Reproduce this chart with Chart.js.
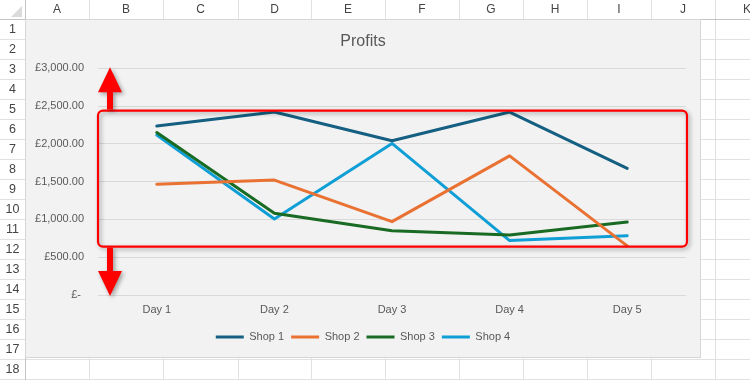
<!DOCTYPE html>
<html><head><meta charset="utf-8">
<script src="https://cdn.jsdelivr.net/npm/chart.js@4/dist/chart.umd.min.js"></script>
<style>
html,body{margin:0;padding:0;width:750px;height:380px;overflow:hidden;background:#fff;}
#sheet{position:absolute;left:0;top:0;}
#c{position:absolute;left:26px;top:20px;}
</style></head>
<body>
<canvas id="sheet" width="750" height="380"></canvas>
<canvas id="c" width="674" height="337"></canvas>
<script>
// ---- data ----
const categories = ['Day 1', 'Day 2', 'Day 3', 'Day 4', 'Day 5'];
const seriesNames = ['Shop 1', 'Shop 2', 'Shop 3', 'Shop 4'];
const shop1 = [2235, 2420, 2040, 2420, 1675];
const shop2 = [1465, 1520, 970, 1840, 650];
const shop3 = [2150, 1080, 850, 795, 965];
const shop4 = [2115, 1005, 2005, 720, 785];
const yTickValues = [0, 500, 1000, 1500, 2000, 2500, 3000];
const highlightBand = [640, 2440];
const columnLetters = ['A','B','C','D','E','F','G','H','I','J','K'];

// ---- spreadsheet background ----
(function drawSheet(){
  const s = document.getElementById('sheet').getContext('2d');
  const colEdges = [25, 89, 163, 238, 311, 385, 459, 523, 587, 651, 715, 779];
  s.fillStyle = '#ffffff'; s.fillRect(0,0,750,380);
  s.strokeStyle = '#e1e1e1'; s.lineWidth = 1;
  for (let i = 1; i < colEdges.length; i++) {
    s.beginPath(); s.moveTo(colEdges[i]+0.5, 0); s.lineTo(colEdges[i]+0.5, 380); s.stroke();
  }
  for (let r = 1; r <= 18; r++) {
    const y = 19 + 20*r;
    s.beginPath(); s.moveTo(0, y+0.5); s.lineTo(750, y+0.5); s.stroke();
  }
  s.strokeStyle = '#c4c4c4';
  s.beginPath(); s.moveTo(0, 19.5); s.lineTo(750, 19.5); s.stroke();
  s.beginPath(); s.moveTo(25.5, 0); s.lineTo(25.5, 380); s.stroke();
  s.fillStyle = '#dadada';
  s.beginPath(); s.moveTo(22,6); s.lineTo(22,17); s.lineTo(11,17); s.closePath(); s.fill();
  s.fillStyle = '#444444'; s.font = '12px "Liberation Sans", Arial, sans-serif';
  s.textAlign = 'center'; s.textBaseline = 'middle';
  for (let i = 0; i < columnLetters.length; i++) {
    s.fillText(columnLetters[i], (colEdges[i] + colEdges[i+1]) / 2, 10);
  }
  s.font = '12.5px "Liberation Sans", Arial, sans-serif';
  for (let r = 1; r <= 18; r++) s.fillText(String(r), 12.5, 9 + 20*r + 1);
  s.fillStyle = '#f2f2f2'; s.fillRect(26, 20, 674, 337);
  s.strokeStyle = '#d6d6d6'; s.strokeRect(25.5, 19.5, 675, 338);
})();

// ---- annotation plugin ----
const annotate = {
  id: 'annotate',
  afterDraw(chart) {
    const {ctx, chartArea, scales} = chart;
    const ys = scales.y;
    const left = chartArea.left, right = chartArea.right + 1;
    const top = ys.getPixelForValue(highlightBand[1]);
    const bottom = ys.getPixelForValue(highlightBand[0]);
    const ax = left + 12;
    ctx.save();
    ctx.shadowColor = 'rgba(0,0,0,0.35)';
    ctx.shadowBlur = 4; ctx.shadowOffsetX = 2; ctx.shadowOffsetY = 2;
    ctx.strokeStyle = '#ff0000'; ctx.lineWidth = 2.2;
    ctx.beginPath(); ctx.roundRect(left, top, right - left, bottom - top, 5); ctx.stroke();
    ctx.fillStyle = '#ff0000';
    const tipUp = ys.getPixelForValue(3000) - 1;
    ctx.beginPath();
    ctx.moveTo(ax, tipUp); ctx.lineTo(ax + 12, tipUp + 25); ctx.lineTo(ax + 3, tipUp + 25);
    ctx.lineTo(ax + 3, top - 1); ctx.lineTo(ax - 3, top - 1); ctx.lineTo(ax - 3, tipUp + 25);
    ctx.lineTo(ax - 12, tipUp + 25); ctx.closePath(); ctx.fill();
    const tipDn = ys.getPixelForValue(0) + 1;
    ctx.beginPath();
    ctx.moveTo(ax, tipDn); ctx.lineTo(ax + 12, tipDn - 25); ctx.lineTo(ax + 3, tipDn - 25);
    ctx.lineTo(ax + 3, bottom + 1); ctx.lineTo(ax - 3, bottom + 1); ctx.lineTo(ax - 3, tipDn - 25);
    ctx.lineTo(ax - 12, tipDn - 25); ctx.closePath(); ctx.fill();
    ctx.restore();
  }
};

const colors = ['#156082', '#E97132', '#196B24', '#0F9ED5'];
const values = [shop1, shop2, shop3, shop4];
const font = '"Liberation Sans", Arial, sans-serif';

new Chart(document.getElementById('c'), {
  type: 'line',
  data: {
    labels: categories,
    datasets: seriesNames.map((n, i) => ({
      label: n, data: values[i], borderColor: colors[i], backgroundColor: colors[i],
      borderWidth: 3, pointRadius: 0, tension: 0, fill: false,
      borderCapStyle: 'round', borderJoinStyle: 'round'
    }))
  },
  options: {
    responsive: false, animation: false, devicePixelRatio: 1,
    layout: {padding: {left: 0, right: 0, top: 0, bottom: 4.5}},
    plugins: {
      tooltip: {enabled: false},
      title: {display: true, text: 'Profits', color: '#595959',
        font: {family: font, size: 16, weight: 'normal'}, padding: {top: 12, bottom: 17}},
      legend: {position: 'bottom',
        labels: {usePointStyle: true, pointStyle: 'line', pointStyleWidth: 28,
          color: '#595959', font: {family: font, size: 11}, padding: 7}}
    },
    scales: {
      x: {
        offset: true,
        grid: {display: false, drawTicks: false},
        border: {display: false},
        ticks: {color: '#595959', font: {family: font, size: 11}, padding: 8, maxRotation: 0},
        afterFit(s) { s.height = 29.5; }
      },
      y: {
        min: 0, max: 3000,
        afterBuildTicks(s) { s.ticks = yTickValues.map(v => ({value: v})); },
        grid: {color: '#d9d9d9', drawTicks: false},
        border: {display: false},
        ticks: {color: '#595959', font: {family: font, size: 11}, padding: 14,
          callback: v => v === 0 ? '£- ' : '£' + Number(v).toLocaleString('en-GB', {minimumFractionDigits: 2, maximumFractionDigits: 2})},
        afterFit(s) { s.width = 72; }
      },
      yPad: {
        position: 'right', min: 0, max: 1,
        grid: {display: false, drawTicks: false},
        border: {display: false},
        ticks: {display: false},
        afterFit(s) { s.width = 14; }
      }
    }
  },
  plugins: [annotate]
});
</script>
</body></html>
